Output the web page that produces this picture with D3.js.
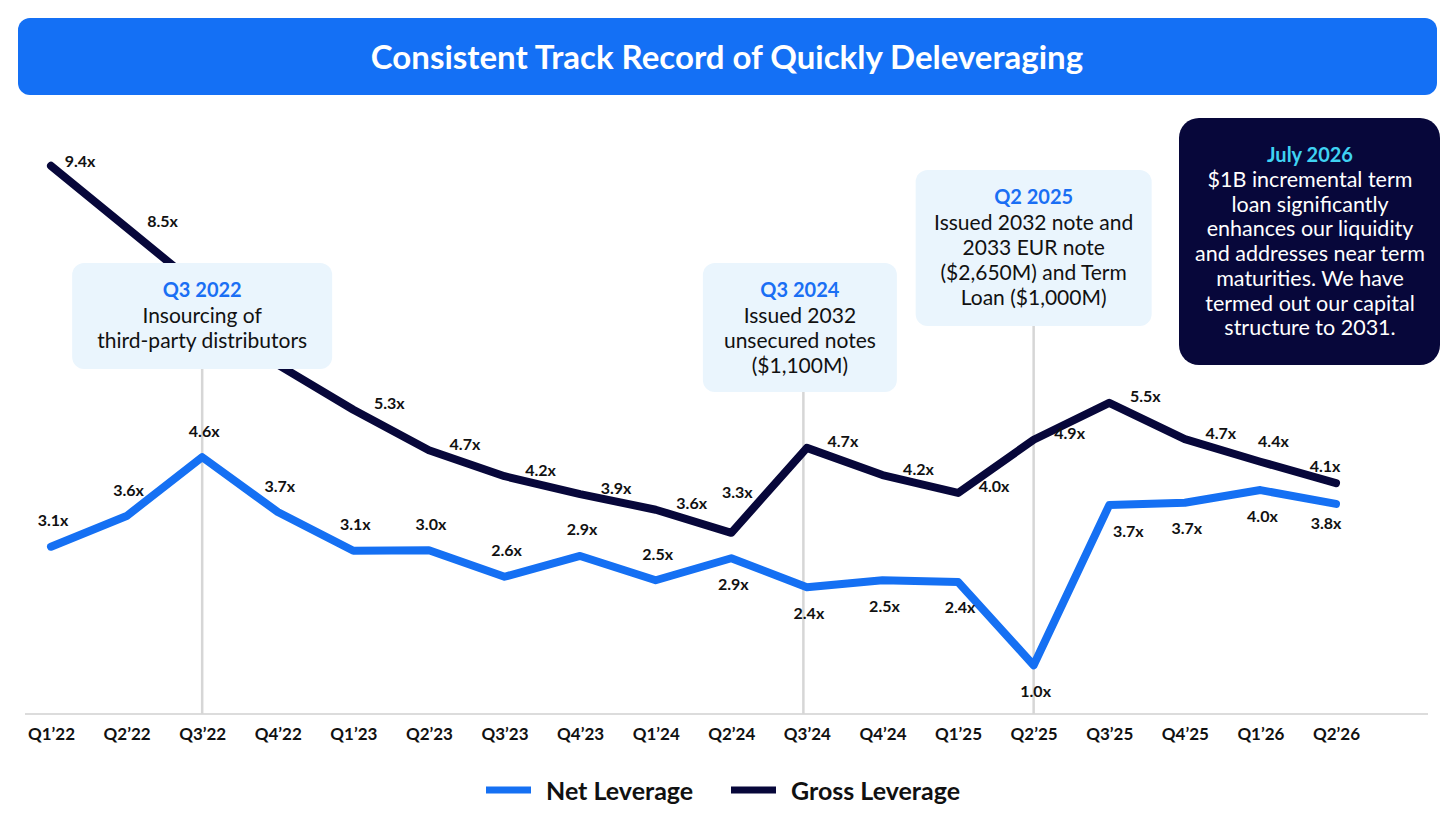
<!DOCTYPE html>
<html>
<head>
<meta charset="utf-8">
<script src="https://cdn.jsdelivr.net/npm/d3@7"></script>
<style>
  html, body { margin: 0; padding: 0; background: #fff; }
  svg { display: block; font-family: Lato, "Noto Sans", sans-serif; }
</style>
</head>
<body>
<div class="chart"></div>
<script>
// quarters on the x axis
const quarters = ["Q1’22", "Q2’22", "Q3’22", "Q4’22", "Q1’23", "Q2’23", "Q3’23", "Q4’23", "Q1’24",
    "Q2’24", "Q3’24", "Q4’24", "Q1’25", "Q2’25", "Q3’25", "Q4’25", "Q1’26", "Q2’26"]

// plotted values
const netLeverage = [3.05, 3.58, 4.6, 3.65, 2.98, 2.99, 2.53, 2.89, 2.47, 2.85, 2.35, 2.47, 2.44, 1.0, 3.77, 3.81, 4.03, 3.79]
const grossLeverage = [9.64, 8.57, 7.5, 6.2, 5.42, 4.72, 4.27, 3.96, 3.69, 3.29, 4.76, 4.29, 3.98, 4.9, 5.54, 4.91, 4.52, 4.15]

// printed data labels
const netLabels = ["3.1x", "3.6x", "4.6x", "3.7x", "3.1x", "3.0x", "2.6x", "2.9x", "2.5x",
    "2.9x", "2.4x", "2.5x", "2.4x", "1.0x", "3.7x", "3.7x", "4.0x", "3.8x"]
const grossLabels = ["9.4x", "8.5x", null, null, "5.3x", "4.7x", "4.2x", "3.9x", "3.6x",
    "3.3x", "4.7x", "4.2x", "4.0x", "4.9x", "5.5x", "4.7x", "4.4x", "4.1x"]

const seriesNames = ["Net Leverage", "Gross Leverage"]

// call-out notes
const notes = [
    { quarter: "Q3’22", title: "Q3 2022", lines: ["Insourcing of", "third-party distributors"] },
    { quarter: "Q3’24", title: "Q3 2024", lines: ["Issued 2032", "unsecured notes", "($1,100M)"] },
    { quarter: "Q2’25", title: "Q2 2025", lines: ["Issued 2032 note and", "2033 EUR note", "($2,650M) and Term", "Loan ($1,000M)"] }
]
const darkNoteTitle = "July 2026"
const darkNoteLines = ["$1B incremental term", "loan significantly", "enhances our liquidity",
    "and addresses near term", "maturities. We have", "termed out our capital", "structure to 2031."]

const W = 1456, H = 822
const NET = '#1570f3', GROSS = '#07073a'

const svg = d3.select('.chart').append('svg')
    .attr('width', W)
    .attr('height', H)

// title banner
svg.append('rect')
    .attr('x', 18).attr('y', 18).attr('width', 1419).attr('height', 77)
    .attr('rx', 12)
    .attr('fill', '#1470f5')
svg.append('text')
    .attr('x', 727).attr('y', 56)
    .attr('text-anchor', 'middle')
    .attr('dominant-baseline', 'central')
    .attr('fill', '#fff')
    .attr('font-size', '33px')
    .attr('font-weight', 700)
    .text('Consistent Track Record of Quickly Deleveraging')

// scales
const x = d3.scalePoint().domain(quarters).range([51, 1336])
const y = d3.scaleLinear().domain([0, 10]).range([723, 145])
const axisY = 714

// x axis
const xAxis = svg.append('g')
    .attr('transform', `translate(0, ${axisY})`)
    .call(d3.axisBottom(x).tickSize(0).tickPadding(14))
xAxis.select('.domain').attr('d', 'M25,0H1428').attr('stroke', '#dcdcdc').attr('stroke-width', 2)
xAxis.selectAll('text')
    .attr('font-family', 'Lato, sans-serif')
    .attr('font-size', '17px')
    .attr('font-weight', 700)
    .attr('fill', '#111')

// note boxes: [width, height, top, centre shift]
const boxSize = { "Q3’22": [260, 106, 263, 0], "Q3’24": [194, 129, 263, -7], "Q2’25": [236, 156, 170, 0] }
notes.forEach(n => {
    const [bw, bh, by, shift] = boxSize[n.quarter]
    svg.append('line')
        .attr('x1', x(n.quarter) + shift / 2).attr('x2', x(n.quarter) + shift / 2)
        .attr('y1', by + bh).attr('y2', axisY)
        .attr('stroke', '#d6d6d6')
        .attr('stroke-width', 2.5)
})

// lines
const line = d3.line()
    .x((d, i) => x(quarters[i]))
    .y(d => y(d))

svg.append('path')
    .datum(grossLeverage)
    .attr('d', line)
    .attr('fill', 'none')
    .attr('stroke', GROSS)
    .attr('stroke-width', 8)
    .attr('stroke-linejoin', 'round')
    .attr('stroke-linecap', 'round')

svg.append('path')
    .datum(netLeverage)
    .attr('d', line)
    .attr('fill', 'none')
    .attr('stroke', NET)
    .attr('stroke-width', 8)
    .attr('stroke-linejoin', 'round')
    .attr('stroke-linecap', 'round')

// data labels, offsets from the point
const netNudge = { 14: [19, 25], 17: [-10, 19] }
const grossNudge = { 0: [29, -5], 9: [6, -41], 16: [13, -21], 17: [-11, -18] }

svg.append('g').selectAll('text')
    .data(netLeverage)
    .join('text')
    .attr('x', (d, i) => x(quarters[i]) + (netNudge[i] ? netNudge[i][0] : 2))
    .attr('y', (d, i) => y(d) + (netNudge[i] ? netNudge[i][1] : (i < 9 ? -27 : 25)))
    .attr('text-anchor', 'middle')
    .attr('dominant-baseline', 'central')
    .attr('font-size', '16px')
    .attr('font-weight', 700)
    .attr('fill', '#111')
    .text((d, i) => netLabels[i])

svg.append('g').selectAll('text')
    .data(grossLeverage)
    .join('text')
    .attr('x', (d, i) => x(quarters[i]) + (grossNudge[i] ? grossNudge[i][0] : 36))
    .attr('y', (d, i) => y(d) + (grossNudge[i] ? grossNudge[i][1] : -7))
    .attr('text-anchor', 'middle')
    .attr('dominant-baseline', 'central')
    .attr('font-size', '16px')
    .attr('font-weight', 700)
    .attr('fill', '#111')
    .text((d, i) => grossLabels[i] || '')

// light call-out boxes
notes.forEach(n => {
    const [bw, bh, by, shift] = boxSize[n.quarter]
    const cx = x(n.quarter) + shift
    const g = svg.append('g')
    g.append('rect')
        .attr('x', cx - bw / 2).attr('y', by)
        .attr('width', bw).attr('height', bh)
        .attr('rx', 12)
        .attr('fill', '#eaf5fd')
    g.append('text')
        .attr('x', cx).attr('y', by + 26)
        .attr('text-anchor', 'middle')
        .attr('dominant-baseline', 'central')
        .attr('font-size', '20px')
        .attr('font-weight', 700)
        .attr('fill', '#1a6ff4')
        .text(n.title)
    n.lines.forEach((t, j) => {
        g.append('text')
            .attr('x', cx).attr('y', by + 51 + j * 25.3)
            .attr('text-anchor', 'middle')
            .attr('dominant-baseline', 'central')
            .attr('font-size', '21px')
            .attr('fill', '#111')
            .text(t)
    })
})

// dark note
const dark = svg.append('g')
dark.append('rect')
    .attr('x', 1179).attr('y', 118)
    .attr('width', 261).attr('height', 247)
    .attr('rx', 20)
    .attr('fill', GROSS)
dark.append('text')
    .attr('x', 1310).attr('y', 154)
    .attr('text-anchor', 'middle')
    .attr('dominant-baseline', 'central')
    .attr('font-size', '20px')
    .attr('font-weight', 700)
    .attr('fill', '#3fd2f2')
    .text(darkNoteTitle)
darkNoteLines.forEach((t, j) => {
    dark.append('text')
        .attr('x', 1310).attr('y', 179 + j * 24.7)
        .attr('text-anchor', 'middle')
        .attr('dominant-baseline', 'central')
        .attr('font-size', '21.5px')
        .attr('fill', '#fff')
        .text(t)
})

// legend
const legend = svg.append('g').attr('transform', 'translate(0, 790)')
const legendX = [486, 731]
seriesNames.forEach((name, i) => {
    legend.append('rect')
        .attr('x', legendX[i]).attr('y', -3.5)
        .attr('width', 45).attr('height', 7)
        .attr('fill', i === 0 ? NET : GROSS)
    legend.append('text')
        .attr('x', legendX[i] + 60).attr('y', 0)
        .attr('dominant-baseline', 'central')
        .attr('font-size', '25px')
        .attr('font-weight', 700)
        .attr('fill', '#111')
        .text(name)
})
</script>
</body>
</html>
